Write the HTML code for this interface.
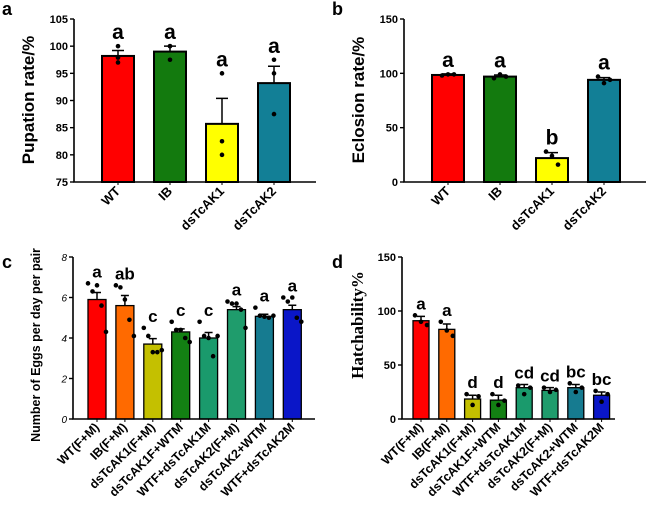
<!DOCTYPE html>
<html><head><meta charset="utf-8"><style>
html,body{margin:0;padding:0;background:#fff;}
svg{display:block;font-family:"Liberation Sans",Arial,sans-serif;}
</style></head><body>
<svg id="fig" width="649" height="508" viewBox="0 0 649 508"></svg>
<script>
// Panel a
const aCats=["WT","IB","dsTcAK1","dsTcAK2"];
const aVals=[98.2,99.0,85.7,93.2];
const aErr=[99.2,100.0,90.4,96.3];
const aDots=[[100,97.9,97],[100,100,97.5],[95,82.5,80],[97.5,95,87.5]];
const aLetters=["a","a","a","a"];
const aTicks=[75,80,85,90,95,100,105];
// Panel b
const bCats=["WT","IB","dsTcAK1","dsTcAK2"];
const bVals=[98.5,97,22,94];
const bErr=[99.5,98.5,27,96];
const bDots=[[98,99,99],[95.5,99,97],[28,24,16],[97,91,94]];
const bLetters=["a","a","b","a"];
const bTicks=[0,50,100,150];
// Panel c
const cCats=["WT(F+M)","IB(F+M)","dsTcAK1(F+M)","dsTcAK1F+WTM","WTF+dsTcAK1M","dsTcAK2(F+M)","dsTcAK2+WTM","WTF+dsTcAK2M"];
const cVals=[5.9,5.6,3.7,4.3,4.0,5.4,5.07,5.4];
const cErr=[6.25,6.1,3.97,4.45,4.27,5.55,5.17,5.62];
const cDots=[[6.7,6.3,6.6,5.6,4.3],[6.6,6.5,5.9,4.9,4.1],[4.5,4.1,3.3,3.3,3.4],[4.8,4.4,4.4,4.0,3.8],[4.8,4.1,4.0,3.1,4.1],[5.8,5.7,5.7,5.4,4.5],[5.5,5.1,5.05,5.0,5.1],[6.0,5.8,6.0,5.0,4.8]];
const cLetters=["a","ab","c","c","c","a","a","a"];
const cTicks=[0,2,4,6,8];
// Panel d
const dCats=["WT(F+M)","IB(F+M)","dsTcAK1(F+M)","dsTcAK1F+WTM","WTF+dsTcAK1M","dsTcAK2(F+M)","dsTcAK2+WTM","WTF+dsTcAK2M"];
const dVals=[91,83,18.5,17.5,29,26.5,29,22];
const dErr=[95,88,22,22,32,29,32,25];
const dDots=[[96,90,87],[90,82,77],[23,13,21],[23,13,17],[31,23,29],[29,25,27],[33,25,29],[26,16,23]];
const dLetters=["a","a","d","d","cd","cd","bc","bc"];
const dTicks=[0,50,100,150];

const NS="http://www.w3.org/2000/svg";
const svg=document.getElementById('fig');
function mk(tag,attrs,parent,text){
  const e=document.createElementNS(NS,tag);
  for(const k in attrs)e.setAttribute(k,attrs[k]);
  if(text!==undefined)e.textContent=text;
  (parent||svg).appendChild(e);return e;
}
function panel(o){
  const g=mk('g',{});
  
  
  const y=v=>o.y0-(v-o.min)/(o.max-o.min)*(o.y0-o.y1);
  const x=i=>o.cx0+i*o.step;
  o.vals.forEach((v,i)=>{
    const r=mk('rect',{x:x(i)-o.bw/2,y:y(v),width:o.bw,height:o.y0-y(v),fill:o.colors[i],stroke:'#000','stroke-width':o.sw},g);
    
    
    const e=mk('path',{d:`M${x(i)} ${y(v)}V${y(o.err[i])}M${x(i)-o.cap} ${y(o.err[i])}H${x(i)+o.cap}`,stroke:'#000','stroke-width':1.5,fill:'none'},g);
    
    
    const n=o.dots[i].length;
    o.dots[i].forEach((d,j)=>{
      const off=(j-(n-1)/2)*o.dotSpread;
      const c=mk('circle',{cx:x(i)+off,cy:y(d),r:o.dr,fill:'#000'},g);
      
      
    });
    const top=Math.max(o.err[i],...o.dots[i]);
    const t=mk('text',{x:x(i),y:y(top)-o.lgap,'text-anchor':'middle','font-weight':'bold','font-size':o.lfs},g,o.letters[i]);
    
    
    const lx=x(i)+3,ly=o.y0+o.xlOff;
    const xl=mk('text',{x:lx,y:ly,'text-anchor':'end','font-weight':'bold','font-size':o.xfs,transform:`rotate(-45 ${lx} ${ly})`},g,o.cats[i]);
    
    
    mk('line',{x1:x(i),x2:x(i),y1:o.y0,y2:o.y0+3,stroke:'#000','stroke-width':1},g);
  });
  const ax=mk('path',{d:`M${o.ax} ${o.y1}V${o.y0}H${o.axEnd}`,stroke:'#000','stroke-width':1.6,fill:'none'},g);
  
  
  o.ticks.forEach(t=>{
    mk('line',{x1:o.ax-4,x2:o.ax,y1:y(t),y2:y(t),stroke:'#000','stroke-width':1.4},g);
    const tl=mk('text',{x:o.ax-6,y:y(t)+4,'text-anchor':'end','font-size':o.tfs,'font-weight':o.tItalic?'normal':'bold','font-style':o.tItalic?'italic':'normal'},g,t);
    
    
  });
  const yt=mk('text',{x:o.ytx,y:o.yty,'text-anchor':'middle','font-weight':'bold','font-size':o.ytfs,transform:`rotate(-90 ${o.ytx} ${o.yty})`,'font-family':o.ytFont||'"Liberation Sans",sans-serif'},g,o.ytitle);
  
  
  const pl=mk('text',{x:o.plx,y:o.ply,'font-weight':'bold','font-size':18},g,o.plabel);
  
  
}
const c4=['#ff0000','#137a0e','#ffff00','#127f96'];
const c8=['#ff0000','#ff6a00','#c4c000','#138013','#1a9a6c','#1f9c6c','#167b90','#0a16c8'];
panel({name:'panel-a-pupation',cats:aCats,vals:aVals,err:aErr,dots:aDots,letters:aLetters,ticks:aTicks,min:75,max:105,y0:182,y1:19,cx0:118,step:52,bw:32,sw:2,cap:6,dr:2.3,dotSpread:0,lgap:7,lfs:21,xfs:13,xlOff:10,colors:c4,ax:74,axEnd:316,tfs:11,ytitle:'Pupation rate/%',ytx:34,yty:100,ytfs:17,plx:2,ply:15,plabel:'a'});
panel({name:'panel-b-eclosion',cats:bCats,vals:bVals,err:bErr,dots:bDots,letters:bLetters,ticks:bTicks,min:0,max:150,y0:182,y1:19,cx0:448,step:52,bw:32,sw:2,cap:6,dr:2.3,dotSpread:6,lgap:7,lfs:21,xfs:13,xlOff:10,colors:c4,ax:404,axEnd:646,tfs:11,ytitle:'Eclosion rate/%',ytx:364,yty:100,ytfs:17,plx:332,ply:15,plabel:'b'});
panel({name:'panel-c-eggs',cats:cCats,vals:cVals,err:cErr,dots:cDots,letters:cLetters,ticks:cTicks,min:0,max:8,y0:419,y1:257,cx0:97,step:27.9,bw:18,sw:1.3,cap:4,dr:2.3,dotSpread:4.5,lgap:6,lfs:17,xfs:12.5,xlOff:9,colors:c8,ax:73,axEnd:315,tfs:10,tItalic:true,ytitle:'Number of Eggs per day per pair',ytx:40,yty:345,ytfs:12.5,plx:2,ply:268,plabel:'c'});
panel({name:'panel-d-hatchability',cats:dCats,vals:dVals,err:dErr,dots:dDots,letters:dLetters,ticks:dTicks,min:0,max:150,y0:419,y1:257,cx0:421,step:25.8,bw:16,sw:1.3,cap:4,dr:2.3,dotSpread:6,lgap:6,lfs:17,xfs:12.5,xlOff:9,colors:c8,ax:402,axEnd:615,tfs:11,ytitle:'Hatchability%',ytx:363,yty:325,ytfs:17,ytFont:'"Liberation Serif",serif',plx:332,ply:268,plabel:'d'});
</script>
</body></html>
